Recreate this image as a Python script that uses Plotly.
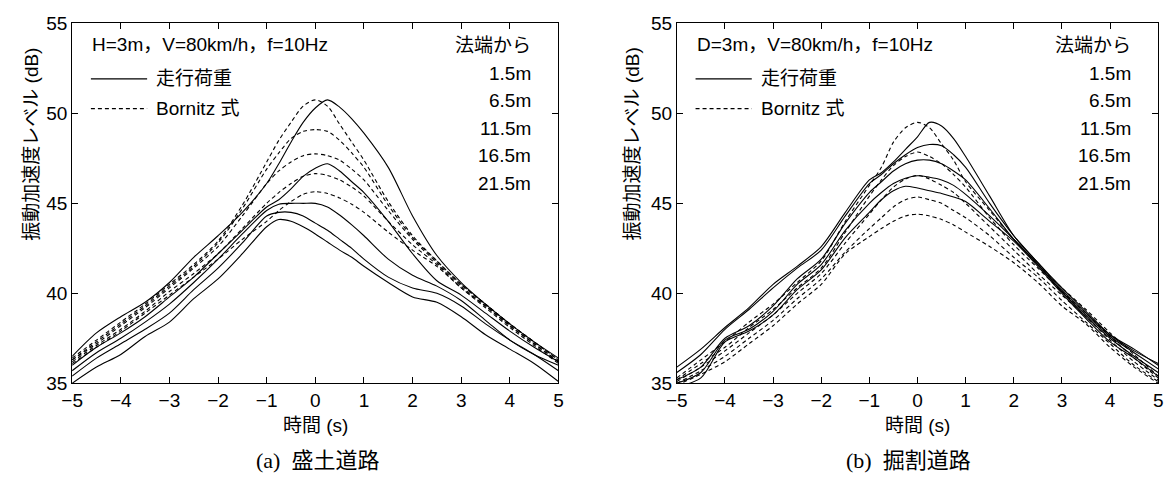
import plotly.graph_objects as go

W, H = 1176, 490

# time grid (s)
t = [-5, -4.5, -4, -3.5, -3, -2.5, -2, -1.5, -1, -0.75, -0.5, -0.25, 0,
     0.25, 0.5, 0.75, 1, 1.5, 2, 2.5, 3, 3.5, 4, 4.5, 5]

# (a) embankment road: measured (走行荷重) curves
a_meas_1 = [36.5, 37.8, 38.7, 39.5, 40.6, 42.0, 43.2, 44.5, 46.1, 47.2, 48.4, 49.5, 50.3,
            50.75, 50.35, 49.7, 48.9, 47.0, 44.3, 42.1, 40.6, 39.4, 38.3, 37.3, 36.4]
a_meas_2 = [36.0, 37.0, 37.8, 38.7, 39.8, 40.9, 42.2, 43.5, 44.8, 45.2, 45.8, 46.5, 46.95,
            47.2, 46.8, 46.2, 45.6, 44.0, 42.2, 40.7, 39.9, 38.9, 37.9, 37.0, 36.2]
a_meas_3 = [35.7, 36.7, 37.5, 38.4, 39.4, 40.6, 41.9, 43.3, 44.6, 44.95, 45.0, 45.0, 45.0,
            44.8, 44.35, 43.8, 43.2, 41.9, 41.0, 40.4, 39.6, 38.5, 37.4, 36.6, 36.0]
a_meas_4 = [35.4, 36.4, 37.2, 38.0, 38.9, 40.2, 41.4, 42.8, 44.3, 44.5, 44.5, 44.3, 43.9,
            43.5, 43.0, 42.5, 41.9, 40.9, 40.3, 40.0, 39.3, 38.3, 37.4, 36.6, 35.7]
a_meas_5 = [35.0, 35.9, 36.6, 37.6, 38.4, 39.7, 40.8, 42.2, 43.7, 44.1, 44.0, 43.7, 43.3,
            42.85, 42.4, 42.0, 41.5, 40.6, 39.8, 39.5, 38.7, 37.7, 36.9, 36.1, 35.1]
# (a) Bornitz curves
a_born_1 = [36.4, 37.4, 38.4, 39.4, 40.5, 41.6, 42.9, 44.9, 47.3, 48.5, 49.5, 50.4, 50.75,
            50.4, 49.4, 48.4, 47.4, 45.1, 43.2, 41.8, 40.5, 39.4, 38.3, 37.3, 36.3]
a_born_2 = [36.3, 37.3, 38.3, 39.3, 40.4, 41.5, 42.8, 44.7, 46.9, 47.8, 48.6, 49.0, 49.1,
            49.0, 48.5, 47.8, 47.0, 44.9, 43.1, 41.8, 40.5, 39.4, 38.3, 37.3, 36.3]
a_born_3 = [36.3, 37.2, 38.2, 39.2, 40.3, 41.4, 42.6, 44.3, 46.1, 46.8, 47.3, 47.65, 47.75,
            47.65, 47.4, 46.9, 46.3, 44.6, 43.0, 41.7, 40.4, 39.3, 38.2, 37.2, 36.2]
a_born_4 = [36.2, 37.1, 38.0, 39.0, 40.1, 41.1, 42.2, 43.6, 45.0, 45.6, 46.1, 46.5, 46.65,
            46.55, 46.3, 45.9, 45.4, 44.0, 42.7, 41.6, 40.3, 39.3, 38.2, 37.2, 36.2]
a_born_5 = [36.1, 37.0, 37.9, 38.9, 39.9, 40.9, 41.9, 43.0, 44.0, 44.6, 45.1, 45.5, 45.65,
            45.55, 45.3, 44.95, 44.5, 43.4, 42.4, 41.5, 40.3, 39.2, 38.1, 37.1, 36.1]

# (b) cut road: measured curves
b_meas_1 = [35.9, 36.9, 38.1, 39.2, 40.5, 41.5, 42.6, 44.5, 46.3, 46.7, 47.3, 48.0, 48.7,
            49.5, 49.3, 48.6, 47.6, 45.4, 43.2, 41.7, 40.3, 39.0, 37.7, 36.8, 36.1]
b_meas_2 = [35.6, 36.6, 38.0, 39.1, 40.3, 41.4, 42.4, 44.3, 46.1, 46.6, 47.2, 47.7, 48.1,
            48.27, 48.2, 47.7, 47.0, 45.0, 43.2, 41.7, 40.2, 38.9, 37.7, 36.9, 36.0]
b_meas_3 = [35.2, 35.9, 37.5, 38.2, 39.3, 40.8, 41.9, 43.9, 45.6, 46.2, 46.8, 47.2, 47.4,
            47.4, 47.2, 46.8, 46.3, 44.7, 43.0, 41.6, 40.1, 38.8, 37.6, 36.7, 35.8]
b_meas_4 = [35.0, 35.6, 37.4, 38.0, 39.0, 40.5, 41.6, 43.5, 45.0, 45.6, 46.1, 46.4, 46.53,
            46.45, 46.3, 46.0, 45.5, 44.3, 43.0, 41.6, 40.1, 38.7, 37.5, 36.5, 35.6]
b_meas_5 = [34.8, 35.3, 37.3, 37.9, 38.8, 40.2, 41.3, 43.1, 44.5, 45.2, 45.7, 45.95, 45.85,
            45.7, 45.55, 45.35, 45.1, 44.0, 42.9, 41.5, 40.0, 38.6, 37.3, 36.4, 35.4]
# (b) Bornitz curves
b_born_1 = [35.3, 36.3, 37.3, 38.4, 39.4, 40.6, 41.8, 44.0, 46.0, 47.0, 48.4, 49.2, 49.5,
            49.2, 48.3, 47.4, 46.2, 44.6, 43.0, 41.6, 40.3, 39.1, 37.8, 36.6, 35.4]
b_born_2 = [35.2, 36.1, 37.0, 38.1, 39.1, 40.3, 41.4, 43.4, 45.4, 46.3, 47.1, 47.6, 47.85,
            47.6, 47.2, 46.6, 45.9, 44.2, 42.7, 41.4, 40.1, 38.9, 37.6, 36.4, 35.3]
b_born_3 = [35.1, 35.9, 36.8, 37.8, 38.8, 40.0, 41.1, 42.8, 44.4, 45.2, 45.9, 46.35, 46.55,
            46.35, 46.0, 45.6, 45.0, 43.7, 42.4, 41.1, 39.9, 38.7, 37.4, 36.2, 35.2]
b_born_4 = [35.0, 35.7, 36.5, 37.5, 38.5, 39.7, 40.8, 42.3, 43.6, 44.2, 44.8, 45.2, 45.35,
            45.2, 45.0, 44.6, 44.2, 43.2, 42.0, 40.9, 39.6, 38.4, 37.2, 36.0, 35.1]
b_born_5 = [34.9, 35.5, 36.2, 37.2, 38.2, 39.4, 40.5, 42.2, 43.15, 43.6, 44.0, 44.3, 44.4,
            44.3, 44.1, 43.8, 43.4, 42.6, 41.7, 40.6, 39.3, 38.3, 37.0, 35.9, 35.0]

x_ticks = [-5, -4, -3, -2, -1, 0, 1, 2, 3, 4, 5]
y_ticks = [35, 40, 45, 50, 55]
distances = ["1.5m", "6.5m", "11.5m", "16.5m", "21.5m"]
cond_a = "H=3m，V=80km/h，f=10Hz"
cond_b = "D=3m，V=80km/h，f=10Hz"
caption_a = "(a)  盛土道路"
caption_b = "(b)  掘割道路"
ytitle = "振動加速度レベル (dB)"
xtitle = "時間 (s)"

FONT = "Liberation Sans, Arial, Noto Sans CJK JP, sans-serif"
FS = 19

fig = go.Figure()

def add_panel(meas, born, xa, ya):
    for s in born:
        fig.add_trace(go.Scatter(x=t, y=s, mode="lines", xaxis=xa, yaxis=ya,
                                 line=dict(color="black", width=1.1, dash="4px,3px",
                                           shape="spline", smoothing=0.8),
                                 hoverinfo="skip"))
    for s in meas:
        fig.add_trace(go.Scatter(x=t, y=s, mode="lines", xaxis=xa, yaxis=ya,
                                 line=dict(color="black", width=1.1,
                                           shape="spline", smoothing=0.8),
                                 hoverinfo="skip"))

add_panel([a_meas_1, a_meas_2, a_meas_3, a_meas_4, a_meas_5],
          [a_born_1, a_born_2, a_born_3, a_born_4, a_born_5], "x", "y")
add_panel([b_meas_1, b_meas_2, b_meas_3, b_meas_4, b_meas_5],
          [b_born_1, b_born_2, b_born_3, b_born_4, b_born_5], "x2", "y2")

def px(x):
    return x / W

def py(y):
    return 1 - y / H

axis_common = dict(showgrid=False, zeroline=False, showline=True, linecolor="black",
                   linewidth=1, mirror="ticks", ticks="inside", ticklen=6,
                   tickwidth=1, tickcolor="black",
                   tickfont=dict(family=FONT, size=FS, color="black"))

fig.update_layout(
    width=W, height=H, margin=dict(l=0, r=0, t=0, b=0),
    paper_bgcolor="white", plot_bgcolor="white", showlegend=False,
    xaxis=dict(domain=[px(62), px(555)], range=[-5, 5], tickvals=x_ticks,
               anchor="y", **axis_common),
    yaxis=dict(domain=[py(390), py(14)], range=[35, 55], tickvals=y_ticks,
               anchor="x", **axis_common),
    xaxis2=dict(domain=[px(675), px(1163)], range=[-5, 5], tickvals=x_ticks,
                anchor="y2", **axis_common),
    yaxis2=dict(domain=[py(390), py(14)], range=[35, 55], tickvals=y_ticks,
                anchor="x2", **axis_common),
)

ann = []
def text(x, y, s, xanchor="left", size=FS, angle=0, family=FONT):
    ann.append(dict(x=px(x), y=py(y), xref="paper", yref="paper", text=s,
                    showarrow=False, xanchor=xanchor, yanchor="middle",
                    textangle=angle, borderpad=0,
                    font=dict(family=family, size=size, color="black")))

shapes = []
def hline(x0, x1, y, dash):
    shapes.append(dict(type="line", xref="paper", yref="paper",
                       x0=px(x0), x1=px(x1), y0=py(y), y1=py(y),
                       line=dict(color="black", width=1.1, dash=dash)))

panels = [
    dict(x0=62, x1=555, cond=cond_a, cap=caption_a, capx=311, ytx=20),
    dict(x0=675, x1=1163, cond=cond_b, cap=caption_b, capx=910, ytx=630),
]
for p in panels:
    lx = p["x0"] + 19
    text(lx, 36, p["cond"])
    hline(lx, lx + 57, 72, "solid")
    text(lx + 65, 72, "走行荷重")
    hline(lx, lx + 57, 103, "4px,3px")
    text(lx + 65, 103, "Bornitz 式")
    rx = p["x1"] - 27
    text(rx, 37, "法端から", xanchor="right")
    for i, d in enumerate(distances):
        text(rx, 66 + i * 28.8, d, xanchor="right")
    text(p["ytx"], 140, ytitle, xanchor="center", angle=-90)
    text((p["x0"] + p["x1"]) / 2, 434, xtitle, xanchor="center")
    text(p["capx"], 471, p["cap"], xanchor="center", size=22,
         family="Liberation Serif, Noto Sans CJK JP, serif")

fig.update_layout(annotations=ann, shapes=shapes)
fig.write_html("out.html")
